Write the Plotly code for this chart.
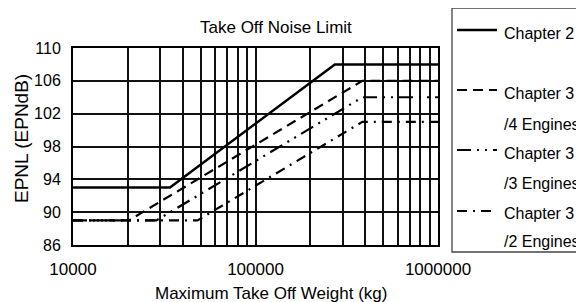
import plotly.graph_objects as go

# ---- data ----
ch2_x = [10000, 34000, 272000, 1000000]
ch2_y = [93, 93, 108, 108]
ch3_4_x = [10000, 20234, 385000, 1000000]
ch3_4_y = [89, 89, 106, 106]
ch3_3_x = [10000, 28615, 385000, 1000000]
ch3_3_y = [89, 89, 104, 104]
ch3_2_x = [10000, 48125, 385000, 1000000]
ch3_2_y = [89, 89, 101, 101]

series_names = ["Chapter 2", "Chapter 3<br>/4 Engines", "Chapter 3<br>/3 Engines", "Chapter 3<br>/2 Engines"]
legend_line1 = ["Chapter 2", "Chapter 3", "Chapter 3", "Chapter 3"]
legend_line2 = ["", "/4 Engines", "/3 Engines", "/2 Engines"]

x_grid = [10000, 20000, 30000, 40000, 50000, 60000, 70000, 80000, 90000,
          100000, 200000, 300000, 400000, 500000, 600000, 700000, 800000, 900000, 1000000]
x_labels = ["10000", "", "", "", "", "", "", "", "",
            "100000", "", "", "", "", "", "", "", "", "1000000"]
y_ticks = [86, 90, 94, 98, 102, 106, 110]

title_text = "Take Off Noise Limit"
x_title = "Maximum Take Off Weight (kg)"
y_title = "EPNL (EPNdB)"

# ---- style ----
FONT = "Liberation Sans, Arial, sans-serif"
dashes = ["solid", "10px,6px", "14px,6px,2px,6px,2px,6px", "10px,6px,2px,6px"]
widths = [2.5, 2.2, 2.2, 2.2]

OFF = 8  # page body margin
W, H = 584 - OFF, 302 - OFF
L, T = 73 - OFF, 48 - OFF
R = W - (438 - OFF)
B = H - (245 - OFF)
pw, ph = W - L - R, H - T - B

def px(x):
    return (x - OFF - L) / pw

def py(y):
    return (H - B - (y - OFF)) / ph

fig = go.Figure()
series = [(ch2_x, ch2_y), (ch3_4_x, ch3_4_y), (ch3_3_x, ch3_3_y), (ch3_2_x, ch3_2_y)]
for i, (xs, ys) in enumerate(series):
    fig.add_trace(go.Scatter(
        x=xs, y=ys, mode="lines", name=series_names[i],
        line=dict(color="black", width=widths[i], dash=dashes[i]),
        showlegend=False, hoverinfo="x+y+name"))

# manual legend box (extends past the right edge as in the reference)
shapes = [dict(type="rect", xref="paper", yref="paper",
               x0=px(452), x1=px(640), y0=py(252), y1=py(8),
               line=dict(color="#444", width=1.3), fillcolor="rgba(0,0,0,0)")]
sample_y = [30, 90, 150, 211]
text_y1 = [33, 93, 153, 213]
text_y2 = [None, 124, 183, 241]
annotations = []
LFS = 16
for i in range(4):
    shapes.append(dict(type="line", xref="paper", yref="paper",
                       x0=px(457), x1=px(497), y0=py(sample_y[i]), y1=py(sample_y[i]),
                       line=dict(color="black", width=widths[i], dash=dashes[i])))
    annotations.append(dict(text=legend_line1[i], xref="paper", yref="paper",
                            x=px(502), y=py(text_y1[i]), xanchor="left", yanchor="middle",
                            showarrow=False, font=dict(size=LFS, color="black", family=FONT)))
    if legend_line2[i]:
        annotations.append(dict(text=legend_line2[i], xref="paper", yref="paper",
                                x=px(502), y=py(text_y2[i]), xanchor="left", yanchor="middle",
                                showarrow=False, font=dict(size=LFS, color="black", family=FONT)))

annotations.append(dict(text=title_text, xref="paper", yref="paper",
                        x=px(276), y=py(27), xanchor="center", yanchor="middle",
                        showarrow=False, font=dict(size=17, color="black", family=FONT)))
annotations.append(dict(text=x_title, xref="paper", yref="paper",
                        x=px(271), y=py(293), xanchor="center", yanchor="middle",
                        showarrow=False, font=dict(size=17, color="black", family=FONT)))
annotations.append(dict(text=y_title, xref="paper", yref="paper",
                        x=px(21), y=py(139), xanchor="center", yanchor="middle", textangle=-90,
                        showarrow=False, font=dict(size=19, color="black", family=FONT)))

fig.update_layout(
    width=W, height=H,
    margin=dict(l=L, r=R, t=T, b=B),
    paper_bgcolor="white", plot_bgcolor="white",
    font=dict(family=FONT, size=17, color="black"),
    shapes=shapes, annotations=annotations,
    showlegend=False,
)
fig.update_xaxes(type="log", range=[4, 6], tickvals=x_grid, ticktext=x_labels,
                 showgrid=True, gridcolor="#111", gridwidth=1.5,
                 showline=True, linecolor="black", linewidth=2, mirror=True,
                 ticks="", ticklabelstandoff=8,
                 tickfont=dict(size=17, family=FONT, color="black"), zeroline=False)
fig.update_yaxes(range=[86, 110], tickvals=y_ticks,
                 showgrid=True, gridcolor="#111", gridwidth=2,
                 showline=True, linecolor="black", linewidth=2, mirror=True,
                 ticks="", ticklabelstandoff=7,
                 tickfont=dict(size=16, family=FONT, color="black"), zeroline=False)

fig.write_html("out.html")
